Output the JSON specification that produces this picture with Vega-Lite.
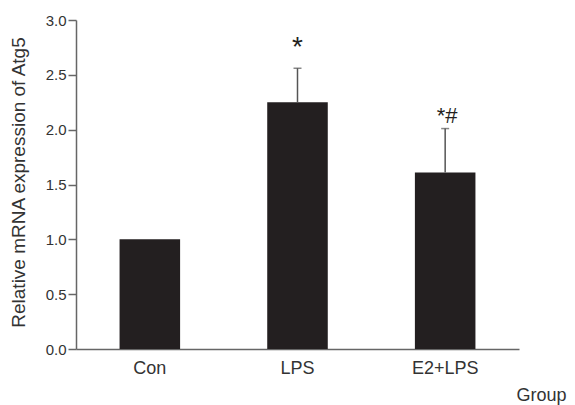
{
  "$schema": "https://vega.github.io/schema/vega-lite/v6.json",
  "width": 443,
  "height": 329,
  "autosize": {"type": "none"},
  "padding": {"left": 76, "top": 20, "right": 56, "bottom": 56},
  "background": "white",
  "config": {
    "view": {"stroke": null},
    "font": "Liberation Sans"
  },
  "data": {
    "values": [
      {"group": "Con", "value": 1.0, "upper": 1.0, "sig": ""},
      {"group": "LPS", "value": 2.25, "upper": 2.56, "sig": "*"},
      {"group": "E2+LPS", "value": 1.61, "upper": 2.01, "sig": "*#"}
    ]
  },
  "encoding": {
    "x": {
      "field": "group",
      "type": "nominal",
      "sort": null,
      "scale": {"paddingInner": 0.59, "paddingOuter": 0.295},
      "axis": {
        "title": "Group",
        "labelAngle": 0,
        "ticks": false,
        "labelPadding": 10,
        "labelFontSize": 18,
        "labelColor": "#333",
        "domainColor": "#666",
        "domainWidth": 1.5,
        "titleFontSize": 18,
        "titleFontWeight": "normal",
        "titleColor": "#333",
        "titleAnchor": "end",
        "titleAlign": "right",
        "titleBaseline": "middle",
        "titleX": 490,
        "titleY": 46
      }
    }
  },
  "layer": [
    {
      "mark": {"type": "bar", "color": "#231f20"},
      "encoding": {
        "y": {
          "field": "value",
          "type": "quantitative",
          "scale": {"domain": [0, 3]},
          "axis": {
            "title": "Relative mRNA expression of Atg5",
            "values": [0, 0.5, 1, 1.5, 2, 2.5, 3],
            "format": ".1f",
            "grid": false,
            "tickSize": 8,
            "tickColor": "#666",
            "tickWidth": 1.5,
            "domainColor": "#666",
            "domainWidth": 1.5,
            "labelPadding": 2,
            "labelFontSize": 15,
            "labelColor": "#333",
            "titleFontSize": 19,
            "titleFontWeight": "normal",
            "titleColor": "#333",
            "titleAngle": -90,
            "titleAlign": "center",
            "titleBaseline": "middle",
            "titleX": -58,
            "titleY": 162
          }
        }
      }
    },
    {
      "transform": [{"filter": "datum.upper > datum.value"}],
      "mark": {"type": "rule", "color": "#555", "strokeWidth": 1.5},
      "encoding": {
        "y": {"field": "value", "type": "quantitative"},
        "y2": {"field": "upper"}
      }
    },
    {
      "transform": [{"filter": "datum.upper > datum.value"}],
      "mark": {"type": "tick", "color": "#555", "thickness": 1.5, "size": 8, "orient": "horizontal"},
      "encoding": {
        "y": {"field": "upper", "type": "quantitative"}
      }
    },
    {
      "transform": [{"filter": "datum.group == 'LPS'"}],
      "mark": {"type": "text", "fontSize": 28, "color": "#231f20", "baseline": "middle", "dy": -20},
      "encoding": {
        "y": {"field": "upper", "type": "quantitative"},
        "text": {"field": "sig"}
      }
    },
    {
      "transform": [{"filter": "datum.group == 'E2+LPS'"}],
      "mark": {"type": "text", "fontSize": 22, "color": "#231f20", "baseline": "middle", "dy": -13, "dx": 2},
      "encoding": {
        "y": {"field": "upper", "type": "quantitative"},
        "text": {"field": "sig"}
      }
    }
  ]
}
